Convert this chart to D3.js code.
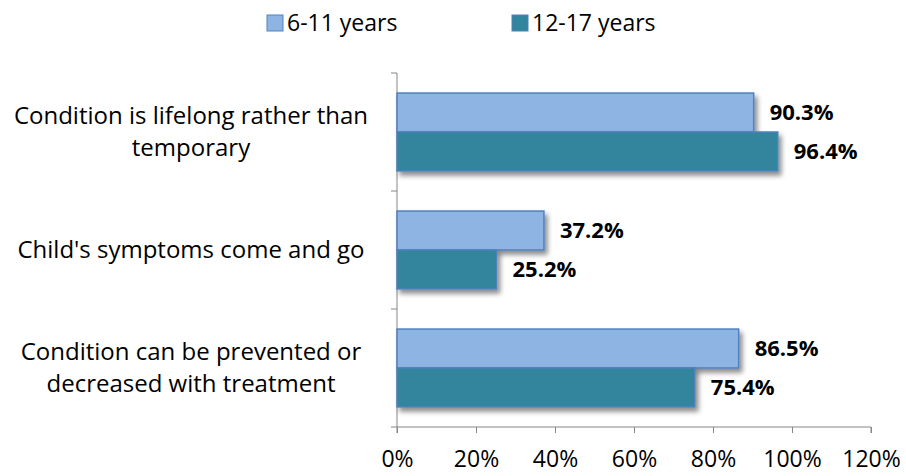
<!DOCTYPE html>
<html>
<head>
<meta charset="utf-8">
<script src="https://cdn.jsdelivr.net/npm/d3@7"></script>
<style>
  body { margin: 0; background: #fff; }
  svg text { font-family: "Open Sans", Lato, sans-serif; fill: #000; }
</style>
</head>
<body>
<div id="graph"></div>
<script>
// donnees
let categories = [
    ["Condition is lifelong rather than", "temporary"],
    ["Child's symptoms come and go"],
    ["Condition can be prevented or", "decreased with treatment"]
];
let series = ["6-11 years", "12-17 years"];
let values611 = [90.3, 37.2, 86.5];
let values1217 = [96.4, 25.2, 75.4];
let xTicks = [0, 20, 40, 60, 80, 100, 120];
let colors = ["#8EB4E3", "#31859C"];

let width = 906, height = 476;
let margin = { top: 73, right: 35, bottom: 49, left: 397 };
let innerW = width - margin.left - margin.right,
    innerH = height - margin.top - margin.bottom;

let svg = d3.select("#graph")
    .append("svg")
    .attr("width", width)
    .attr("height", height);

// ombre portee des barres
let defs = svg.append("defs");
let filter = defs.append("filter").attr("id", "shadow")
    .attr("x", "-5%").attr("y", "-20%").attr("width", "115%").attr("height", "160%");
filter.append("feDropShadow")
    .attr("dx", 3).attr("dy", 4).attr("stdDeviation", 2.5)
    .attr("flood-color", "#000").attr("flood-opacity", 0.45);

let g = svg.append("g")
    .attr("transform", "translate(" + margin.left + "," + margin.top + ")");

let x = d3.scaleLinear()
    .domain([0, 120])
    .range([0, 474]);

let y = d3.scaleBand()
    .domain(d3.range(categories.length))
    .range([0, innerH])
    .paddingInner(0.34)
    .paddingOuter(0.17);

let ySub = d3.scaleBand()
    .domain([0, 1])
    .range([0, y.bandwidth()]);

// axe X
let xAxis = g.append("g")
    .attr("transform", "translate(0," + innerH + ")")
    .call(d3.axisBottom(x).tickValues(xTicks).tickSize(6).tickPadding(18)
        .tickFormat(d => d + "%"));
xAxis.selectAll("line, path").attr("stroke", "#868686");
xAxis.select(".domain").attr("d", "M0,6V0H" + x(120) + "V6");
xAxis.selectAll("text").style("font-size", "23px").style("font-family", "'Open Sans'");

// axe Y (sans libelles, les libelles sont dessines a part)
let yTickPos = d3.range(categories.length + 1).map(i => i * y.step());
let yAxis = g.append("g");
yAxis.append("line")
    .attr("x1", 0).attr("x2", 0).attr("y1", 0).attr("y2", innerH)
    .attr("stroke", "#868686");
yAxis.selectAll(".tk").data(yTickPos).enter().append("line")
    .attr("x1", -6).attr("x2", 0)
    .attr("y1", d => d).attr("y2", d => d)
    .attr("stroke", "#868686");

// libelles des categories
let lineH = 32;
categories.forEach((lines, i) => {
    let cy = y(i) + y.bandwidth() / 2;
    let t = svg.append("text")
        .attr("text-anchor", "middle")
        .attr("x", 191)
        .style("font-size", "24px");
    lines.forEach((l, j) => {
        t.append("tspan")
            .attr("x", 191)
            .attr("y", margin.top + cy + (j - (lines.length - 1) / 2) * lineH)
            .attr("dy", "0.35em")
            .text(l);
    });
});

// barres
let rows = categories.map((c, i) => ({ i: i, v: [values611[i], values1217[i]] }));
let groups = g.selectAll(".grp").data(rows).enter().append("g")
    .attr("transform", d => "translate(0," + y(d.i) + ")");

groups.selectAll("rect")
    .data(d => d.v.map((v, k) => ({ k: k, v: v })))
    .enter().append("rect")
    .attr("x", 0)
    .attr("y", d => ySub(d.k))
    .attr("width", d => x(d.v))
    .attr("height", ySub.bandwidth())
    .attr("fill", d => colors[d.k])
    .attr("stroke", "#4F81BD")
    .attr("stroke-width", 1.5)
    .attr("filter", "url(#shadow)");

groups.selectAll(".lbl")
    .data(d => d.v.map((v, k) => ({ k: k, v: v })))
    .enter().append("text")
    .attr("x", d => x(d.v) + 16)
    .attr("y", d => ySub(d.k) + ySub.bandwidth() / 2)
    .attr("dy", "0.35em")
    .style("font-size", "22px")
    .style("font-weight", "bold")
    .text(d => d.v.toFixed(1) + "%");

// legende
let legendX = [267, 512];
series.forEach((s, k) => {
    let lg = svg.append("g").attr("transform", "translate(" + legendX[k] + ",15)");
    lg.append("rect")
        .attr("width", 16).attr("height", 16)
        .attr("fill", colors[k])
        .attr("stroke", "#4F81BD");
    lg.append("text")
        .attr("x", 20).attr("y", 8)
        .attr("dy", "0.35em")
        .style("font-size", "23px")
        .text(s);
});
</script>
</body>
</html>
